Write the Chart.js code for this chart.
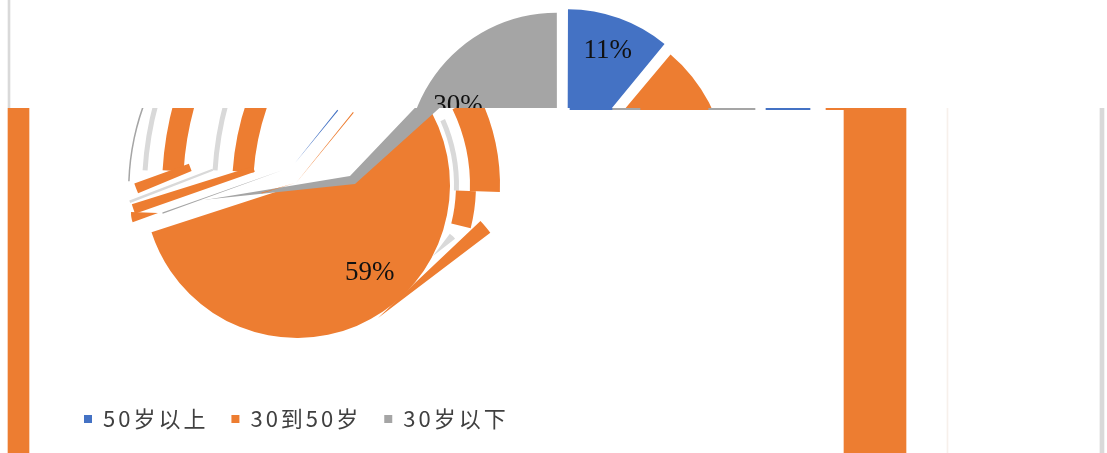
<!DOCTYPE html>
<html>
<head>
<meta charset="utf-8">
<script src="https://cdn.jsdelivr.net/npm/chart.js@4"></script>
<style>
html, body { margin: 0; padding: 0; background: #fff; overflow: hidden; }
#page { position: relative; width: 1107px; height: 453px; overflow: hidden; }
canvas { position: absolute; left: 0; top: 0; }
</style>
</head>
<body>
<div id="page"></div>
<script>
var W = 1107, H = 453, CUT = 108;
var ageLabels = ["50岁以上", "30到50岁", "30岁以下"];
var ageShares = [11, 59, 30];
var ageColors = ["#4472C4", "#ED7D31", "#A5A5A5"];
var ORANGE = "#ED7D31", LIGHT = "#D9D9D9", BLUE = "#4472C4", GRAY = "#A5A5A5";
var page = document.getElementById("page");

function addCanvas(top, height, clip) {
    var c = document.createElement("canvas");
    c.width = W;
    c.height = height;
    c.style.top = top + "px";
    if (clip) c.style.clipPath = clip;
    page.appendChild(c);
    return c;
}

// chart area is centred on cx,cy by padding one side only
function centred(cx, cy) {
    return {
        left: Math.max(0, 2 * cx - W), right: Math.max(0, W - 2 * cx),
        top: Math.max(0, 2 * cy - H), bottom: Math.max(0, H - 2 * cy)
    };
}

var percentLabels = {
    id: "percentLabels",
    afterDatasetsDraw: function (chart, args, opts) {
        var ctx = chart.ctx;
        chart.getDatasetMeta(0).data.forEach(function (arc, i) {
            if (!opts.show[i]) return;
            var p = arc.getProps(["x", "y", "startAngle", "endAngle", "outerRadius"], true);
            var mid = (p.startAngle + p.endAngle) / 2;
            ctx.save();
            ctx.font = "27px 'Liberation Serif'";
            ctx.fillStyle = "#111";
            ctx.textAlign = "center";
            ctx.textBaseline = "middle";
            ctx.fillText(ageShares[i] + "%", p.x + Math.cos(mid) * p.outerRadius * opts.at[i] + opts.dx[i], p.y + Math.sin(mid) * p.outerRadius * opts.at[i] + opts.dy[i]);
            ctx.restore();
        });
    }
};

function agePie(cx, cy, radius, offset, colors, clip, labelOpts) {
    new Chart(addCanvas(0, H, clip), {
        type: "pie",
        data: {
            labels: ageLabels,
            datasets: [{ data: ageShares, backgroundColor: colors, borderWidth: 0, offset: offset }]
        },
        options: {
            responsive: false,
            animation: false,
            radius: radius,
            layout: { padding: centred(cx, cy) },
            plugins: { legend: { display: false }, tooltip: { enabled: false }, percentLabels: labelOpts }
        },
        plugins: [percentLabels]
    });
}

// broken-up pieces of the lower picture
function piece(cx, cy, from, span, r, inner, color) {
    new Chart(addCanvas(0, H, LOWER), {
        type: "doughnut",
        data: { datasets: [{ data: [span, 360 - span], backgroundColor: [color, "rgba(0,0,0,0)"], borderWidth: 0 }] },
        options: {
            responsive: false,
            animation: false,
            radius: r,
            cutout: (inner / r * 100) + "%",
            rotation: from,
            layout: { padding: centred(cx, cy) },
            plugins: { legend: { display: false }, tooltip: { enabled: false } }
        }
    });
}

function strips(top, height, spans, colors) {
    new Chart(addCanvas(top, height), {
        type: "bar",
        data: {
            labels: ["row"],
            datasets: spans.map(function (s, i) {
                return { data: [s], backgroundColor: colors[i], grouped: false, barPercentage: 1, categoryPercentage: 1 };
            })
        },
        options: {
            indexAxis: "y",
            responsive: false,
            animation: false,
            scales: {
                x: { display: false, min: 0, max: W },
                y: { display: false }
            },
            plugins: { legend: { display: false }, tooltip: { enabled: false } }
        }
    });
}

var UPPER = "inset(0 0 " + (H - CUT) + "px 0)";
var LOWER = "inset(" + CUT + "px 0 0 0)";
var CLEAR = "rgba(0,0,0,0)";

// upper part of the pie
agePie(565, 169, 150, [30, 30, 40], ageColors, UPPER, { show: [true, false, true], at: [0.84, 0, 0.84], dx: [0, 0, -5], dy: [0, 0, 11] });

// lower part, shifted to the left
agePie(297, 185, 153, 0, [CLEAR, ORANGE, CLEAR], LOWER, { show: [false, false, false], at: [0, 0, 0], dx: [0, 0, 0], dy: [0, 0, 0] });
piece(355, 184, 264, 144, 240, 0, GRAY);
piece(350, 176, 260.6, 143, 250, 0, "#fff");
agePie(297, 185, 153, 0, [CLEAR, CLEAR, CLEAR], LOWER, { show: [false, true, false], at: [0, 0.74, 0], dx: [0, 9, 0], dy: [0, -6, 0] });

// stripes upper left
piece(505, 190, 274, 15, 273, 252, ORANGE);
piece(495, 190, 273.4, 12, 333, 312, ORANGE);
piece(545, 190, 273.4, 12, 333, 328, LIGHT);
piece(475, 190, 273.4, 12, 333, 328, LIGHT);
piece(378, 190, 272, 20, 250, 248.5, GRAY);
piece(330, 113, 247.3, 2.9, 208, 150, ORANGE);
piece(420, 114, 250.7, 1.9, 302, 175, ORANGE);
piece(420, 90, 248.7, 0.5, 311, 222, LIGHT);
piece(158, 213, 250, 22, 27, 0, ORANGE);
piece(283, 170, 250, 0.6, 128, 0, GRAY);
piece(295, 183, 252.5, 1.5, 35, 0, ORANGE);
piece(295, 163, 38.5, 1, 68, 0, BLUE);
piece(296, 183, 38.7, 0.7, 91, 0, ORANGE);

// jagged right side
piece(297, 185, 64, 28, 203, 173, ORANGE);
piece(297, 185, 66, 26, 162, 157, LIGHT);
piece(297, 185, 92, 12, 179, 159, ORANGE);
piece(378, 318, 46.6, 6.2, 141, 0, ORANGE);
piece(433, 256, 37, 15, 28, 0, LIGHT);

// straight pieces
strips(0, CUT, [[8, 10]], [LIGHT]);
strips(CUT, H - CUT, [[8, 29], [844, 906], [947, 948], [1100, 1104]], [ORANGE, ORANGE, "#F7F0EB", LIGHT]);
strips(CUT, 2, [[570, 612], [607, 640], [628, 708], [705, 755], [766, 810], [826, 844]], [BLUE, GRAY, ORANGE, GRAY, BLUE, ORANGE]);

// legend
var spaced = {
    id: "spaced",
    beforeLayout: function (c) { c.ctx.letterSpacing = "3px"; },
    beforeDraw: function (c) { c.ctx.letterSpacing = "3px"; }
};
new Chart(addCanvas(0, H), {
    type: "pie",
    data: { labels: ageLabels, datasets: [{ data: ageShares, backgroundColor: ageColors, borderWidth: 0 }] },
    options: {
        responsive: false,
        animation: false,
        radius: 0,
        layout: { padding: { left: 61, bottom: 13, right: 500 } },
        plugins: {
            tooltip: { enabled: false },
            legend: {
                position: "bottom",
                align: "start",
                labels: {
                    boxWidth: 8,
                    boxHeight: 8,
                    padding: 23,
                    color: "#404040",
                    font: { family: "'Noto Sans CJK SC'", size: 22 }
                }
            }
        }
    },
    plugins: [spaced]
});
</script>
</body>
</html>
